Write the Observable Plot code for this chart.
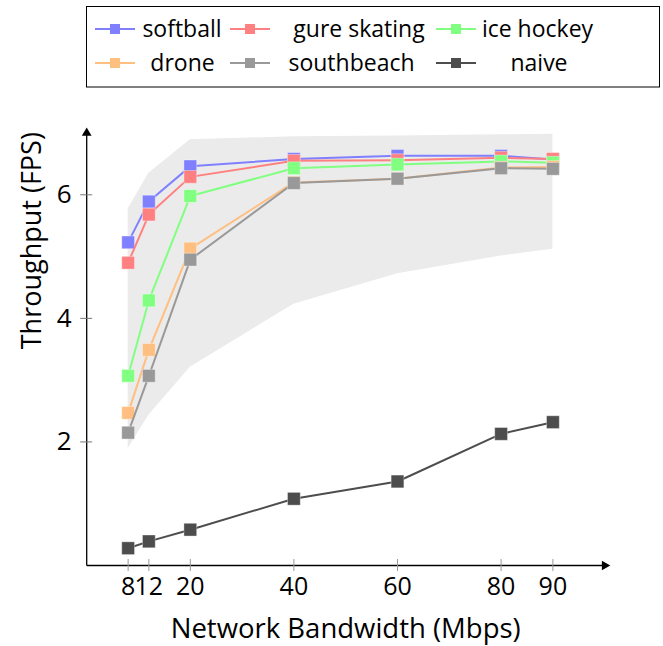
<!DOCTYPE html>
<html>
<head>
<meta charset="utf-8">
<script src="https://cdn.jsdelivr.net/npm/d3@7"></script>
<script src="https://cdn.jsdelivr.net/npm/@observablehq/plot@0.6"></script>
<style>
  html, body { margin: 0; padding: 0; background: #fff; }
  #wrap { position: relative; width: 663px; height: 646px; font-family: "Open Sans", sans-serif; }
  #legend { position: absolute; left: 0; top: 0; }
</style>
</head>
<body>
<div id="wrap"></div>
<script>
// ---- data ----
const bandwidth = [8, 12, 20, 40, 60, 80, 90];
const xTicks = [8, 12, 20, 40, 60, 80, 90];
const yTicks = [2, 4, 6];
const xDomain = [0, 100];
const yDomain = [0, 7];

const softball    = [5.23, 5.89, 6.46, 6.58, 6.63, 6.63, 6.57];
const figSkating  = [4.90, 5.68, 6.29, 6.55, 6.56, 6.60, 6.58];
const iceHockey   = [3.07, 4.29, 5.98, 6.43, 6.49, 6.54, 6.52];
const drone       = [2.47, 3.49, 5.13, 6.20, 6.26, 6.44, 6.45];
const southbeach  = [2.15, 3.07, 4.95, 6.19, 6.26, 6.43, 6.42];
const naive       = [0.28, 0.39, 0.58, 1.08, 1.36, 2.13, 2.32];

const bandLower = [1.89, 2.43, 3.21, 4.23, 4.72, 5.01, 5.12];
const bandUpper = [5.77, 6.35, 6.89, 6.94, 6.95, 6.97, 6.98];

const seriesNames  = ["softball", "gure skating", "ice hockey", "drone", "southbeach", "naive"];
const seriesValues = [softball, figSkating, iceHockey, drone, southbeach, naive];
const seriesColors = ["#8080ff", "#ff8080", "#80ff80", "#ffbf80", "#999999", "#4d4d4d"];

const xLabel = "Network Bandwidth (Mbps)";
const yLabel = "Throughput (FPS)";

// ---- tables ----
const band = bandwidth.map((x, i) => ({x, lo: bandLower[i], hi: bandUpper[i]}));
const series = seriesNames.map((name, s) => ({
  name, color: seriesColors[s],
  rows: bandwidth.map((x, i) => ({x, y: seriesValues[s][i]}))
}));

const W = 663, H = 646;
const mL = 86.2, mR = 58.8, mT = 132.5, mB = 81;

const marks = [
  Plot.areaY(band, {x: "x", y1: "lo", y2: "hi", fill: "#ebebeb"}),
  // axes lines with arrows
  Plot.link([0], {x1: () => xDomain[0], x2: () => xDomain[1], y1: () => yDomain[0], y2: () => yDomain[0], stroke: "#000", strokeWidth: 1.3}),
  Plot.link([0], {x1: () => xDomain[0], x2: () => xDomain[0], y1: () => yDomain[0], y2: () => yDomain[1], stroke: "#000", strokeWidth: 1.3}),
  Plot.dot([0], {x: () => xDomain[1], y: () => yDomain[0], symbol: "triangle", r: 3.6, fill: "#000", rotate: 90}),
  Plot.dot([0], {x: () => xDomain[0], y: () => yDomain[1], symbol: "triangle", r: 3.6, fill: "#000", rotate: 0}),
  // ticks crossing the axes
  Plot.ruleX(xTicks, {x: d => d, y1: () => yDomain[0], y2: () => yDomain[0], insetTop: -6, insetBottom: -6, stroke: "#999", strokeWidth: 1}),
  Plot.ruleY(yTicks, {y: d => d, x1: () => xDomain[0], x2: () => xDomain[0], insetLeft: -6, insetRight: -6, stroke: "#777", strokeWidth: 1}),
  Plot.axisX({ticks: xTicks, tickSize: 0, tickPadding: 12, label: null, fontSize: 25, tickFormat: d => String(d)}),
  Plot.axisY({ticks: yTicks, tickSize: 0, tickPadding: 15, label: null, fontSize: 26, tickFormat: d => String(d)}),
  Plot.text([xLabel], {text: d => d, frameAnchor: "bottom", lineAnchor: "top", dy: 53, fontSize: 27.5}),
  Plot.text([yLabel], {text: d => d, frameAnchor: "left", rotate: -90, dx: -54, fontSize: 27})
];
for (const s of series) {
  marks.push(Plot.line(s.rows, {x: "x", y: "y", stroke: s.color, strokeWidth: 2}));
  marks.push(Plot.dot(s.rows, {x: "x", y: "y", symbol: "square", r: 7.2, fill: s.color, stroke: "#fff", strokeOpacity: 0.35, strokeWidth: 1}));
}

const chart = Plot.plot({
  width: W, height: H,
  marginLeft: mL, marginRight: mR, marginTop: mT, marginBottom: mB,
  x: {type: "linear", domain: xDomain, axis: null},
  y: {type: "linear", domain: yDomain, axis: null},
  style: {fontFamily: "'Open Sans', sans-serif", background: "#fff", overflow: "visible", color: "#000"},
  marks
});
document.getElementById("wrap").appendChild(chart);

// ---- legend (SVG overlay above the plot area) ----
const legendLayout = [
  {sx: 95, tx: 182, ty: 29}, {sx: 230, tx: 359, ty: 29}, {sx: 436, tx: 537.5, ty: 29},
  {sx: 95, tx: 182.5, ty: 63}, {sx: 230, tx: 351.5, ty: 63}, {sx: 436, tx: 539, ty: 63}
];
const leg = d3.select("#wrap").append("svg")
  .attr("id", "legend").attr("width", W).attr("height", 95)
  .style("font-family", "'Open Sans', sans-serif");
leg.append("rect").attr("x", 86.5).attr("y", 6.5).attr("width", 573).attr("height", 80.5)
  .attr("fill", "#fff").attr("stroke", "#000").attr("stroke-width", 1);
seriesNames.forEach((name, i) => {
  const L = legendLayout[i], c = seriesColors[i];
  const g = leg.append("g");
  g.append("line").attr("x1", L.sx).attr("x2", L.sx + 40).attr("y1", L.ty).attr("y2", L.ty)
    .attr("stroke", c).attr("stroke-width", 2);
  g.append("rect").attr("x", L.sx + 15).attr("y", L.ty - 5).attr("width", 10).attr("height", 10).attr("fill", c);
  g.append("text").attr("x", L.tx).attr("y", L.ty).attr("text-anchor", "middle").attr("dy", "0.35em")
    .attr("font-size", 23).attr("fill", "#000").text(name);
});
</script>
</body>
</html>
